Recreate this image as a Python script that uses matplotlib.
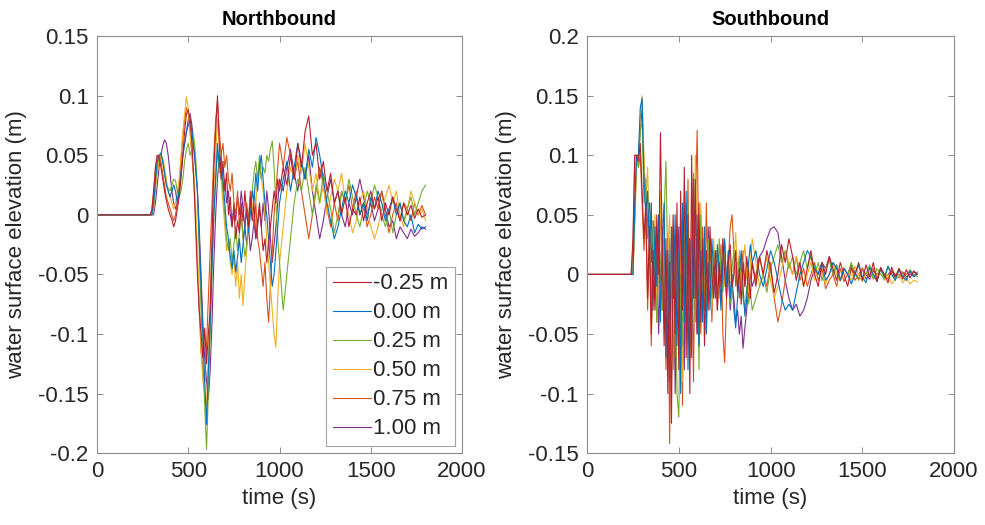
import numpy as np
import matplotlib
matplotlib.use("Agg")
import matplotlib.pyplot as plt
from matplotlib.ticker import FuncFormatter, MultipleLocator

plt.rcParams['font.family'] = ['Liberation Sans', 'DejaVu Sans']
plt.rcParams['axes.unicode_minus'] = False

labels = ["-0.25 m", "0.00 m", "0.25 m", "0.50 m", "0.75 m", "1.00 m"]
colors = ["#B8202E", "#0072BD", "#77AC30", "#EDB120", "#D95319", "#7E2F8E"]

# ---------------- Northbound ----------------
# flat before onset: t = 0, 290 ; dense: t = 300..1000 step 10 ; late: t = 1020..1800 step 20
north_dense = {
"-0.25 m": [0.004, 0.02, 0.04, 0.05, 0.048, 0.04, 0.03, 0.02, 0.012, 0.005,
            0.0, -0.004, -0.01, -0.005, 0.005, 0.015, 0.03, 0.05, 0.07, 0.085,
            0.088, 0.08, 0.06, 0.03, -0.01, -0.05, -0.08, -0.1, -0.12, -0.095,
            -0.125, -0.1, -0.08, -0.02, 0.04, 0.07, 0.1, 0.06, 0.03, 0.045,
            0.02, 0.035, 0.0, 0.015, -0.01, 0.005, -0.02, -0.005, -0.015, 0.01,
            -0.005, 0.02, 0.0, -0.01, 0.015, -0.005, 0.01, -0.02, -0.005, 0.01,
            -0.01, -0.03, -0.02, -0.04, -0.025, -0.01, 0.005, 0.02, 0.01, 0.03,
            0.02],
"0.00 m": [0.0, 0.01, 0.03, 0.045, 0.05, 0.052, 0.045, 0.035, 0.025, 0.02,
           0.015, 0.02, 0.025, 0.02, 0.01, 0.02, 0.035, 0.05, 0.06, 0.07,
           0.075, 0.08, 0.07, 0.055, 0.04, 0.02, -0.02, -0.06, -0.1, -0.14,
           -0.176, -0.13, -0.09, -0.04, 0.0, 0.03, 0.06, 0.04, 0.05, 0.03,
           0.01, -0.01, -0.02, -0.035, -0.045, -0.03, -0.048, -0.035, -0.02, -0.04,
           -0.025, -0.01, 0.005, -0.015, 0.0, 0.02, 0.01, 0.035, 0.02, 0.04,
           0.05, 0.03, 0.01, 0.0, -0.02, -0.04, -0.06, -0.05, -0.03, -0.01,
           0.01],
"0.25 m": [0.0, 0.008, 0.025, 0.04, 0.048, 0.05, 0.045, 0.035, 0.025, 0.022,
           0.02, 0.025, 0.03, 0.029, 0.02, 0.015, 0.02, 0.03, 0.045, 0.055,
           0.06, 0.05, 0.055, 0.065, 0.05, 0.02, -0.03, -0.08, -0.12, -0.16,
           -0.197, -0.15, -0.1, -0.05, 0.0, 0.03, 0.055, 0.035, 0.045, 0.02,
           0.0, -0.02, -0.03, -0.02, -0.04, -0.025, -0.01, -0.03, -0.015, 0.0,
           -0.02, -0.035, -0.025, -0.01, 0.005, 0.02, 0.035, 0.045, 0.03, 0.05,
           0.03, 0.04, 0.035, 0.05, 0.045, 0.055, 0.062, 0.04, 0.01, -0.02,
           -0.04],
"0.50 m": [0.0, 0.005, 0.02, 0.035, 0.045, 0.05, 0.048, 0.04, 0.03, 0.02,
           0.015, 0.01, 0.005, 0.01, 0.02, 0.03, 0.05, 0.07, 0.085, 0.099,
           0.09, 0.07, 0.05, 0.035, 0.01, -0.03, -0.07, -0.11, -0.14, -0.15,
           -0.16, -0.12, -0.07, -0.02, 0.02, 0.05, 0.08, 0.06, 0.03, 0.01,
           -0.01, -0.03, -0.02, -0.04, -0.05, -0.035, -0.06, -0.04, -0.07, -0.05,
           -0.076, -0.05, -0.03, -0.01, 0.01, 0.0, 0.02, 0.01, 0.03, 0.045,
           0.03, 0.02, 0.0, -0.02, -0.04, -0.06, -0.08, -0.1, -0.111, -0.07,
           -0.04],
"0.75 m": [0.003, 0.018, 0.038, 0.05, 0.05, 0.045, 0.035, 0.025, 0.015, 0.01,
           0.005, 0.0, -0.005, 0.0, 0.01, 0.025, 0.045, 0.065, 0.08, 0.09,
           0.085, 0.07, 0.05, 0.03, 0.0, -0.04, -0.08, -0.115, -0.13, -0.14,
           -0.11, -0.07, -0.03, 0.01, 0.05, 0.08, 0.095, 0.07, 0.05, 0.06,
           0.04, 0.05, 0.03, 0.02, 0.035, 0.01, 0.0, 0.02, -0.01, 0.005,
           -0.02, -0.01, 0.01, -0.005, 0.02, 0.005, -0.01, 0.01, -0.02, -0.03,
           -0.045, -0.06, -0.04, -0.07, -0.09, -0.06, -0.03, 0.0, 0.02, 0.04,
           0.06],
"1.00 m": [0.0, 0.0, 0.01, 0.025, 0.04, 0.05, 0.058, 0.063, 0.06, 0.05,
           0.035, 0.02, 0.01, 0.005, 0.01, 0.02, 0.035, 0.05, 0.06, 0.07,
           0.08, 0.085, 0.075, 0.06, 0.04, 0.02, -0.01, -0.05, -0.09, -0.12,
           -0.14, -0.155, -0.13, -0.09, -0.04, 0.0, 0.03, 0.05, 0.04, 0.02,
           0.03, 0.01, 0.02, 0.0, -0.01, 0.01, -0.005, 0.015, 0.0, 0.02,
           0.005, -0.01, -0.025, -0.01, -0.03, -0.02, -0.005, -0.02, -0.01, 0.005,
           -0.01, 0.01, -0.005, 0.02, 0.005, -0.02, -0.04, -0.025, -0.01, 0.01,
           0.03],
}
north_late = {
"-0.25 m": [0.04, 0.025, 0.05, 0.03, 0.06, 0.04, 0.07, 0.083, 0.05, 0.06,
            0.03, 0.045, 0.02, 0.035, 0.01, 0.02, 0.0, 0.015, -0.01, 0.005,
            0.0, 0.015, -0.005, 0.01, 0.02, 0.005, 0.015, -0.005, 0.01, 0.0,
            0.015, 0.005, -0.005, 0.01, 0.0, 0.008, -0.003, 0.005, -0.002, 0.0],
"0.00 m": [0.03, 0.045, 0.02, 0.04, 0.06, 0.045, 0.03, 0.055, 0.04, 0.065,
           0.05, 0.03, 0.01, -0.005, -0.02, -0.01, 0.005, 0.02, 0.01, 0.025,
           0.015, 0.0, 0.01, -0.005, 0.015, 0.005, 0.02, 0.01, -0.005, 0.005,
           0.015, 0.0, 0.01, -0.005, -0.01, 0.0, -0.015, -0.008, -0.012, -0.01],
"0.25 m": [-0.08, -0.05, -0.02, 0.01, 0.03, 0.02, 0.04, 0.02, 0.0, 0.025,
           0.01, 0.035, 0.02, 0.005, -0.015, 0.0, 0.02, 0.01, 0.03, 0.015,
           0.0, -0.01, 0.005, 0.02, 0.01, 0.025, 0.015, 0.0, -0.01, 0.005,
           -0.015, 0.0, 0.01, -0.005, 0.005, 0.015, 0.0, 0.01, 0.02, 0.025],
"0.50 m": [-0.01, 0.02, 0.04, 0.03, 0.05, 0.035, 0.06, 0.04, 0.02, 0.035,
           0.01, 0.025, 0.0, 0.015, 0.03, 0.02, 0.035, 0.01, 0.0, -0.015,
           -0.005, 0.01, 0.02, 0.005, -0.01, -0.02, -0.01, 0.005, 0.015, 0.025,
           0.01, 0.02, 0.0, -0.01, 0.005, 0.02, 0.01, 0.0, 0.005, -0.005],
"0.75 m": [0.04, 0.065, 0.05, 0.03, 0.045, 0.02, 0.0, -0.02, 0.0, 0.02,
           0.04, 0.025, 0.005, -0.01, 0.01, -0.005, 0.02, 0.01, 0.025, 0.005,
           0.02, 0.0, 0.01, -0.01, 0.0, 0.015, 0.005, 0.02, 0.0, -0.015,
           0.0, 0.01, -0.005, 0.01, 0.005, -0.005, 0.01, 0.0, 0.008, 0.0],
"1.00 m": [0.02, 0.04, 0.055, 0.035, 0.02, 0.045, 0.03, 0.05, 0.02, 0.0,
           -0.02, -0.005, 0.015, 0.03, 0.01, 0.02, 0.0, -0.01, 0.01, 0.0,
           0.015, 0.03, 0.015, 0.0, 0.01, -0.005, 0.005, 0.02, 0.005, -0.01,
           -0.005, -0.02, -0.01, -0.015, -0.02, -0.012, -0.018, -0.015, -0.01, -0.012],
}

# ---------------- Southbound ----------------
# flat before onset: t = 0, 240 ; dense: t = 250..900 step 10 ; late: t = 920..1800 step 20
south_dense = {
"-0.25 m": [0.03, 0.1, 0.1, 0.095, 0.11,
            0.07, 0.03, 0.06, -0.02, 0.04, -0.05, 0.02, -0.03, 0.05, 0.0,
            0.119, 0.02, -0.06, 0.03, -0.1, 0.01, -0.125, 0.04, -0.05, 0.06,
            -0.08, 0.07, -0.03, 0.09, -0.07, 0.05, -0.1, 0.1, -0.02, 0.08,
            -0.05, 0.06, -0.04, 0.03, -0.06, 0.02, -0.03, 0.04, 0.0, -0.02,
            0.02, -0.03, 0.01, -0.01, 0.03, 0.0, -0.02, 0.01, 0.025, -0.01,
            0.0, 0.02, -0.015, 0.005, -0.025, 0.01, -0.01, 0.015, 0.0, -0.02,
            0.01],
"0.00 m": [0.0, 0.06, 0.1, 0.1, 0.14,
           0.148, 0.08, 0.05, 0.07, 0.02, 0.06, -0.03, 0.04, -0.01, 0.05,
           -0.04, 0.03, 0.06, -0.07, 0.02, -0.09, 0.04, -0.02, 0.05, -0.06,
           0.02, -0.1, 0.06, -0.04, 0.07, -0.08, 0.03, -0.05, 0.08, -0.02,
           0.05, -0.06, 0.02, -0.04, 0.04, -0.05, 0.01, -0.03, 0.03, 0.0,
           -0.02, 0.025, 0.0, -0.03, 0.01, 0.03, -0.01, 0.02, -0.02, 0.0,
           -0.03, -0.045, -0.02, 0.0, 0.02, -0.01, -0.035, -0.02, 0.01, 0.025,
           0.01],
"0.25 m": [0.0, 0.05, 0.1, 0.09, 0.12,
           0.13, 0.06, 0.08, 0.03, 0.05, -0.02, 0.04, 0.0, -0.04, 0.03,
           0.01, -0.03, 0.05, 0.095, 0.0, -0.05, 0.02, -0.08, 0.03, -0.1,
           -0.12, 0.0, -0.06, 0.04, -0.03, 0.06, -0.07, 0.02, 0.085, -0.04,
           0.03, -0.08, 0.05, -0.03, 0.02, -0.04, 0.03, 0.0, -0.02, 0.02,
           0.01, -0.02, 0.03, 0.0, -0.015, 0.02, -0.01, 0.01, -0.025, 0.005,
           0.02, 0.0, -0.01, 0.015, 0.0, -0.02, -0.03, -0.01, -0.025, -0.015,
           -0.03],
"0.50 m": [0.0, 0.04, 0.09, 0.1, 0.13,
           0.15, 0.1, 0.06, 0.09, 0.03, 0.06, 0.0, 0.05, -0.03, 0.02,
           0.07, -0.02, 0.04, -0.06, 0.02, 0.05, -0.09, 0.01, -0.04, 0.04,
           -0.06, 0.03, -0.09, 0.05, -0.02, 0.04, -0.05, 0.07, -0.03, 0.1,
           0.02, -0.04, 0.06, -0.02, 0.03, -0.05, 0.02, 0.01, -0.03, 0.03,
           0.0, 0.02, -0.02, 0.01, 0.03, -0.01, 0.0, 0.02, 0.01, -0.02,
           0.01, 0.035, 0.0, 0.02, -0.01, 0.01, 0.025, 0.0, -0.015, 0.01,
           0.03],
"0.75 m": [0.02, 0.1, 0.1, 0.09, 0.1,
           0.06, 0.02, 0.05, -0.03, 0.03, -0.06, 0.02, 0.04, -0.04, 0.01,
           0.06, -0.03, 0.02, -0.08, 0.03, -0.142, 0.0, 0.05, -0.07, 0.02,
           -0.04, 0.05, -0.11, 0.04, -0.02, 0.08, -0.06, 0.03, -0.09, 0.05,
           0.121, 0.0, -0.05, 0.04, -0.03, 0.06, -0.02, 0.03, -0.04, 0.01,
           0.02, -0.03, 0.0, 0.025, -0.05, -0.074, -0.02, 0.01, 0.04, 0.05,
           0.02, -0.01, 0.01, -0.02, 0.0, 0.02, -0.01, 0.005, -0.02, 0.0,
           0.01],
"1.00 m": [0.0, 0.05, 0.1, 0.1, 0.12,
           0.14, 0.09, 0.07, 0.04, 0.06, 0.01, 0.045, -0.02, 0.03, -0.05,
           0.0, 0.04, -0.04, 0.02, -0.07, 0.03, -0.02, 0.05, -0.1, 0.0,
           0.04, -0.06, 0.02, -0.08, 0.06, -0.03, 0.03, -0.07, 0.04, -0.01,
           -0.05, 0.03, 0.0, -0.03, 0.02, -0.02, 0.04, 0.0, -0.03, 0.015,
           -0.01, 0.02, 0.0, -0.02, 0.01, 0.025, -0.01, 0.0, -0.03, -0.01,
           -0.02, -0.04, -0.03, -0.05, -0.035, -0.062, -0.045, -0.03, -0.01, 0.0,
           -0.01],
}
south_late = {
"-0.25 m": [-0.01, 0.015, 0.0, 0.02, 0.005, -0.015, 0.0, 0.025, 0.01, 0.03,
            0.015, -0.005, 0.01, -0.01, 0.005, 0.02, 0.0, -0.01, 0.01, 0.0,
            0.015, 0.005, -0.005, 0.01, 0.0, -0.01, 0.005, 0.0, 0.01, -0.005,
            0.008, -0.002, 0.01, -0.006, 0.006, 0.0, -0.007, 0.006, -0.002, 0.005,
            -0.004, 0.004, -0.003, 0.003, 0.0],
"0.00 m": [0.02, 0.0, -0.01, 0.005, 0.02, 0.01, -0.005, -0.02, -0.03, -0.025,
           -0.03, -0.015, 0.0, 0.01, 0.02, 0.015, 0.005, 0.0, 0.01, -0.005,
           0.0, 0.01, 0.005, -0.005, 0.005, 0.0, -0.008, 0.0, 0.008, -0.002,
           -0.007, 0.006, 0.0, -0.006, 0.005, -0.002, 0.007, 0.0, -0.005, 0.004,
           -0.002, -0.005, 0.003, -0.002, 0.002],
"0.25 m": [-0.02, -0.01, 0.0, -0.015, 0.005, 0.015, 0.025, 0.01, 0.02, 0.005,
           0.015, 0.0, 0.01, 0.02, 0.005, 0.015, 0.0, 0.01, -0.005, 0.005,
           0.012, 0.0, 0.008, -0.005, 0.005, 0.0, 0.01, 0.0, -0.005, 0.006,
           0.0, 0.008, -0.004, 0.005, 0.0, -0.004, 0.006, 0.0, -0.003, 0.005,
           0.0, -0.004, 0.004, 0.0, -0.002],
"0.50 m": [0.01, -0.01, 0.0, 0.015, -0.005, -0.02, -0.01, 0.005, 0.02, 0.01,
           0.0, 0.015, 0.005, -0.01, 0.0, 0.01, -0.005, 0.005, 0.0, -0.008,
           0.0, 0.01, 0.0, -0.006, 0.006, 0.0, -0.005, 0.007, 0.0, -0.006,
           0.0, 0.006, -0.004, 0.0, 0.005, -0.005, 0.0, -0.008, -0.004, 0.0,
           -0.007, -0.003, -0.008, -0.005, -0.006],
"0.75 m": [-0.005, 0.015, 0.0, -0.01, 0.01, -0.02, -0.04, -0.025, -0.005, 0.01,
           0.0, 0.015, -0.005, 0.005, -0.01, 0.0, 0.01, -0.005, 0.005, -0.012,
           -0.005, 0.0, -0.01, 0.005, -0.006, 0.0, 0.006, -0.005, 0.0, 0.005,
           -0.004, 0.0, 0.005, -0.003, 0.004, 0.0, -0.004, 0.003, 0.0, -0.003,
           0.002, 0.0, 0.003, -0.002, 0.0],
"1.00 m": [0.0, 0.015, 0.02, 0.03, 0.038, 0.04, 0.035, 0.015, -0.005, -0.02,
           -0.03, -0.025, -0.035, -0.03, -0.02, -0.005, 0.005, 0.0, 0.01, 0.005,
           0.015, 0.0, 0.008, -0.005, 0.005, 0.0, 0.008, 0.002, -0.004, 0.004,
           0.0, -0.004, 0.003, 0.0, 0.004, -0.003, 0.0, 0.003, -0.003, 0.0,
           0.002, -0.002, 0.0, 0.002, 0.0],
}

north_t = np.concatenate([[0, 290], np.arange(300, 1001, 10), np.arange(1020, 1801, 20)])
south_t = np.concatenate([[0, 240], np.arange(250, 901, 10), np.arange(920, 1801, 20)])

fig = plt.figure(figsize=(9.85, 5.25), dpi=100)
ax1 = fig.add_axes([0.0985, 0.137, 0.3706, 0.794])
ax2 = fig.add_axes([0.596, 0.137, 0.3726, 0.794])

fmt = FuncFormatter(lambda v, p: "%g" % round(v, 4))
edge = "#8c8c8c"
txt = "#262626"

def draw(ax, t, dense, late, title, ylim, ystep):
    handles = {}
    for lab, col in reversed(list(zip(labels, colors))):
        y = np.concatenate([[0.0, 0.0], dense[lab], late[lab]])
        h, = ax.plot(t, y, color=col, lw=0.8)
        handles[lab] = h
    ax.set_xlim(0, 2000)
    ax.set_ylim(*ylim)
    ax.xaxis.set_major_locator(MultipleLocator(500))
    ax.yaxis.set_major_locator(MultipleLocator(ystep))
    ax.yaxis.set_major_formatter(fmt)
    ax.tick_params(direction='in', top=True, right=True, length=4, width=0.7,
                   color=edge, labelsize=16, labelcolor=txt, pad=6)
    for s in ax.spines.values():
        s.set_color(edge)
        s.set_linewidth(0.8)
    ax.set_title(title, fontsize=14.5, fontweight='bold', color='black', pad=8)
    ax.set_xlabel("time (s)", fontsize=16, color=txt, labelpad=4)
    ax.set_ylabel("water surface elevation (m)", fontsize=16, color=txt, labelpad=8)
    return handles

hN = draw(ax1, north_t, north_dense, north_late, "Northbound", (-0.2, 0.15), 0.05)
hS = draw(ax2, south_t, south_dense, south_late, "Southbound", (-0.15, 0.2), 0.05)

leg = ax1.legend([hN[l] for l in labels], labels, loc='lower right', fontsize=16,
                 frameon=True, fancybox=False, edgecolor=edge, handlelength=1.7,
                 handletextpad=0.1, labelspacing=0.36, borderpad=0.3,
                 borderaxespad=0.32)
leg.get_frame().set_linewidth(0.8)
for text in leg.get_texts():
    text.set_color(txt)

fig.savefig("out.png", dpi=100)
